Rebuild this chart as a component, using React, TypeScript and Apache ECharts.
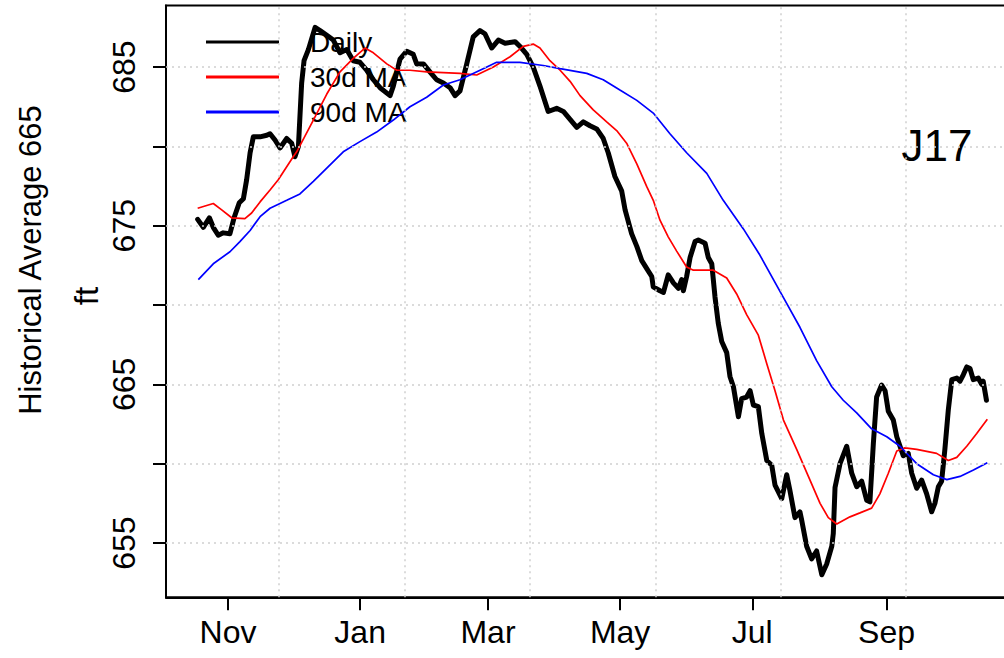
import React, { useEffect, useRef } from "react";
import * as echarts from "echarts";

// x values: days counted from 2016-10-01 (Nov 1 = 31, Jan 1 = 92, ...)
const dailyDays = [
  17.0, 19.6, 22.4, 24.2, 26.5, 28.8, 31.9, 33.8, 36.2, 38.1, 39.6, 41.2, 42.7, 45.8, 48.9, 50.4,
  52.7, 55.0, 58.1, 60.4, 61.9, 63.5, 65.0, 66.1, 68.1, 71.2, 73.5, 76.6, 79.6, 82.7, 85.8, 88.8,
  91.9, 95.0, 98.1, 101.2, 105.8, 107.3, 110.4, 113.5, 116.5, 118.1, 121.2, 124.2, 127.3, 130.4,
  133.5, 135.8, 138.1, 141.2, 144.2, 147.3, 149.6, 152.7, 155.8, 158.9, 163.5, 165.8, 168.9, 171.9,
  175.0, 178.8, 182.7, 185.8, 188.9, 192.0, 195.0, 198.1, 201.2, 204.2, 206.5, 209.6, 212.7, 214.3,
  217.3, 219.7, 222.0, 224.3, 226.6, 227.3, 230.4, 232.0, 234.2, 236.6, 238.9, 240.4, 241.2, 242.7,
  244.3, 246.6, 248.1, 251.2, 252.7, 254.3, 255.8, 257.3, 258.9, 261.2, 262.7, 264.3, 266.6, 268.1,
  270.4, 272.0, 273.5, 275.8, 277.4, 279.7, 282.0, 283.5, 286.6, 288.9, 290.4, 292.7, 295.0, 295.8,
  298.1, 300.4, 302.7, 305.1, 307.4, 309.7, 310.4, 311.2, 313.5, 316.6, 318.9, 321.2, 323.5, 325.8,
  327.3, 328.9, 330.4, 332.7, 334.3, 335.8, 338.1, 339.7, 341.2, 342.7, 345.0, 346.6, 348.9, 351.2,
  353.5, 355.8, 357.3, 358.9, 360.4, 361.9, 363.5, 365.1, 367.4, 368.9, 370.4, 372.0, 373.5, 375.0,
  377.3, 378.9, 379.6, 381.1,
];
const dailyValues = [
  675.4, 674.9, 675.5, 674.9, 674.4, 674.55, 674.5, 675.5, 676.45, 676.7, 677.9, 679.6, 680.6, 680.6, 680.7, 680.8,
  680.4, 679.9, 680.5, 680.2, 679.35, 680.0, 684.0, 685.4, 686.1, 687.5, 687.3, 687.0, 686.7, 685.9, 686.1, 685.4,
  685.3, 684.8, 684.2, 683.7, 683.2, 683.8, 685.5, 686.0, 685.8, 685.2, 685.2, 684.7, 684.2, 684.0,
  683.7, 683.2, 683.5, 685.2, 686.9, 687.3, 687.1, 686.2, 686.7, 686.5, 686.6, 686.3, 685.8, 685.0,
  683.8, 682.2, 682.4, 682.2, 681.7, 681.2, 681.55, 681.3, 681.1, 680.5, 679.6, 678.1, 677.2, 676.0,
  674.5, 673.7, 672.8, 672.3, 671.8, 671.15, 670.9, 670.8, 671.9, 671.4, 671.05, 671.6, 670.9, 671.8,
  673.0, 674.0, 674.1, 673.9, 673.0, 672.6, 670.5, 668.85, 667.7, 667.0, 665.5, 664.85, 662.96, 664.1,
  664.2, 664.6, 663.7, 663.6, 661.9, 660.2, 659.9, 658.65, 657.8, 659.3, 658.3, 656.6, 656.97, 656.45,
  654.8, 654.0, 654.5, 653.0, 653.7, 654.8, 655.6, 658.5, 660.0, 661.1, 659.4, 658.55, 658.9, 657.7,
  657.6, 661.3, 664.2, 664.96, 664.6, 663.3, 662.75, 661.7, 661.1, 660.5, 660.65, 659.4, 658.45, 658.97,
  658.1, 656.97, 657.5, 658.55, 658.9, 660.9, 663.4, 665.3, 665.4, 665.2, 665.6, 666.1, 666.0, 665.3,
  665.4, 665.0, 665.2, 664.0,
];

const ma30Days = [
  17.0, 24.2, 28.1, 32.7, 38.8, 41.9, 45.8, 50.4, 54.2, 61.1, 62.7, 70.4, 76.6, 82.7, 88.8, 94.2,
  98.1, 104.3, 108.9, 115.0, 122.7, 138.1, 145.8, 153.5, 161.2, 167.3, 171.9, 175.0, 179.6, 184.3,
  188.9, 193.5, 199.6, 205.8, 210.4, 215.0, 219.7, 224.3, 227.3, 230.4, 234.2, 238.1, 242.7, 245.8,
  255.0, 261.2, 265.8, 270.4, 275.8, 279.7, 283.5, 287.4, 293.5, 298.9, 304.3, 308.1, 312.0, 318.1,
  322.7, 328.1, 331.9, 335.8, 339.7, 343.5, 348.9, 358.1, 363.5, 367.4, 372.0, 376.6, 381.5,
];
const ma30Values = [
  676.1, 676.4, 676.0, 675.5, 675.45, 675.8, 676.5, 677.25, 677.9, 679.35, 679.66, 681.66, 683.3, 684.7, 685.55, 686.2,
  685.9, 685.2, 684.8, 684.8, 684.7, 684.6, 684.5, 685.0, 685.65, 686.3, 686.45, 686.2, 685.4, 684.8,
  684.1, 683.2, 682.3, 681.55, 681.0, 680.2, 678.9, 677.46, 676.6, 675.35, 674.3, 673.4, 672.4, 672.2,
  672.2, 671.7, 670.7, 669.4, 668.1, 666.3, 664.6, 662.75, 660.9, 659.2, 657.5, 656.6, 656.2, 656.65,
  656.9, 657.2, 658.1, 659.4, 660.8, 661.0, 660.9, 660.65, 660.2, 660.4, 661.1, 661.9, 662.8,
];

const ma90Days = [
  17.3, 24.2, 31.9, 36.5, 41.2, 45.8, 50.4, 55.0, 58.1, 64.2, 70.4, 84.2, 91.9, 99.6, 107.3, 115.0,
  122.7, 130.4, 138.1, 142.7, 148.8, 155.0, 165.8, 176.5, 184.3, 196.6, 204.2, 211.9, 219.7, 227.3,
  235.0, 242.7, 252.0, 259.6, 268.9, 276.5, 288.1, 295.0, 302.7, 309.7, 315.0, 321.2, 328.1, 335.1,
  341.2, 348.9, 356.6, 362.8, 368.9, 375.1, 381.5,
];
const ma90Values = [
  671.6, 672.6, 673.36, 674.0, 674.7, 675.57, 676.1, 676.4, 676.6, 677.0, 677.8, 679.66, 680.3, 680.9, 681.66, 682.5,
  683.1, 683.87, 684.2, 684.5, 684.9, 685.3, 685.3, 685.1, 684.9, 684.6, 684.2, 683.55, 682.9, 682.1,
  680.8, 679.6, 678.3, 676.6, 674.8, 673.15, 670.3, 668.6, 666.5, 664.85, 664.0, 663.2, 662.2, 661.7,
  661.1, 660.0, 659.3, 659.0, 659.2, 659.6, 660.06,
];

const monthTickDays = [31, 92, 151, 212, 273, 335];
const monthTickLabels = ["Nov", "Jan", "Mar", "May", "Jul", "Sep"];
const yTickValues = [655, 660, 665, 670, 675, 680, 685];
const yLabelValues = [655, 665, 675, 685];
const xGridDays = [54.63, 112.5, 170.37, 228.24, 286.11, 343.98];
const yGridValues = [655, 660, 665, 670, 675, 680, 685];

const seriesNames = ["Daily", "30d MA", "90d MA"];
const seriesColors = ["#000000", "#ff0000", "#0000ff"];

const FONT = "'Liberation Sans', Arial, Helvetica, sans-serif";

export default function App() {
  const ref = useRef<HTMLDivElement>(null);
  useEffect(() => {
    if (!ref.current) return;
    const chart = echarts.init(ref.current, null, { renderer: "svg" });
    const zip = (xs: number[], ys: number[]) => xs.map((x, i) => [x, ys[i]]);
    chart.setOption({
      animation: false,
      grid: {
        left: 166,
        right: 2,
        top: 5.5,
        bottom: 60.7,
        show: true,
        borderColor: "#000",
        borderWidth: 2,
        backgroundColor: "transparent",
      },
      xAxis: {
        type: "value",
        min: 2.38,
        max: 395.66,
        axisLine: { show: true, lineStyle: { color: "#000", width: 2 } },
        axisTick: {
          show: true,
          customValues: monthTickDays,
          length: 13,
          lineStyle: { color: "#000", width: 2 },
        },
        axisLabel: {
          customValues: monthTickDays,
          formatter: (v: number) => {
            const i = monthTickDays.indexOf(v);
            return i >= 0 ? monthTickLabels[i] : "";
          },
          fontSize: 32,
          fontFamily: FONT,
          color: "#000",
          margin: 19,
        },
        splitLine: { show: false },
      },
      yAxis: {
        type: "value",
        min: 651.58,
        max: 688.88,
        axisLine: { show: true, lineStyle: { color: "#000", width: 2 } },
        axisTick: {
          show: true,
          customValues: yTickValues,
          length: 13,
          lineStyle: { color: "#000", width: 2 },
        },
        axisLabel: {
          customValues: yLabelValues,
          rotate: 90,
          fontSize: 32,
          fontFamily: FONT,
          color: "#000",
          margin: 26,
        },
        splitLine: { show: false },
      },
      legend: {
        data: seriesNames,
        orient: "vertical",
        left: 201,
        top: 22,
        icon: "rect",
        itemWidth: 73,
        itemHeight: 3,
        itemGap: 5,
        textStyle: {
          fontSize: 28,
          fontFamily: FONT,
          color: "#000",
          lineHeight: 30,
          padding: [0, 0, 0, 26],
        },
      },
      graphic: [
        {
          type: "text",
          x: 30,
          y: 260,
          rotation: Math.PI / 2,
          style: {
            text: "Historical Average 665",
            fontSize: 31,
            fontFamily: FONT,
            fill: "#000",
            align: "center",
            verticalAlign: "middle",
          },
        },
        {
          type: "text",
          x: 86,
          y: 296,
          rotation: Math.PI / 2,
          style: {
            text: "ft",
            fontSize: 33,
            fontFamily: FONT,
            fill: "#000",
            align: "center",
            verticalAlign: "middle",
          },
        },
        {
          type: "text",
          x: 937,
          y: 145,
          style: {
            text: "J17",
            fontSize: 44,
            fontFamily: FONT,
            fill: "#000",
            align: "center",
            verticalAlign: "middle",
          },
        },
      ],
      series: [
        {
          name: "grid",
          type: "line",
          data: zip(dailyDays, dailyValues),
          symbol: "none",
          lineStyle: { opacity: 0 },
          silent: true,
          z: 1,
          markLine: {
            silent: true,
            symbol: ["none", "none"],
            label: { show: false },
            lineStyle: { color: "#cfcfcf", type: [2, 4], width: 1.5 },
            data: [
              ...xGridDays.map((v) => ({ xAxis: v })),
              ...yGridValues.map((v) => ({ yAxis: v })),
            ],
          },
        },
        {
          name: seriesNames[0],
          type: "line",
          data: zip(dailyDays, dailyValues),
          symbol: "none",
          lineStyle: { color: seriesColors[0], width: 5, join: "round", cap: "round" },
          itemStyle: { color: seriesColors[0] },
          z: 3,
        },
        {
          name: seriesNames[1],
          type: "line",
          data: zip(ma30Days, ma30Values),
          symbol: "none",
          lineStyle: { color: seriesColors[1], width: 1.7 },
          itemStyle: { color: seriesColors[1] },
          z: 4,
        },
        {
          name: seriesNames[2],
          type: "line",
          data: zip(ma90Days, ma90Values),
          symbol: "none",
          lineStyle: { color: seriesColors[2], width: 1.7 },
          itemStyle: { color: seriesColors[2] },
          z: 4,
        },
      ],
    });
    return () => chart.dispose();
  }, []);
  return (
    <div
      ref={ref}
      style={{ position: "fixed", left: 0, top: 0, width: 1020, height: 658, background: "#fff" }}
    />
  );
}
